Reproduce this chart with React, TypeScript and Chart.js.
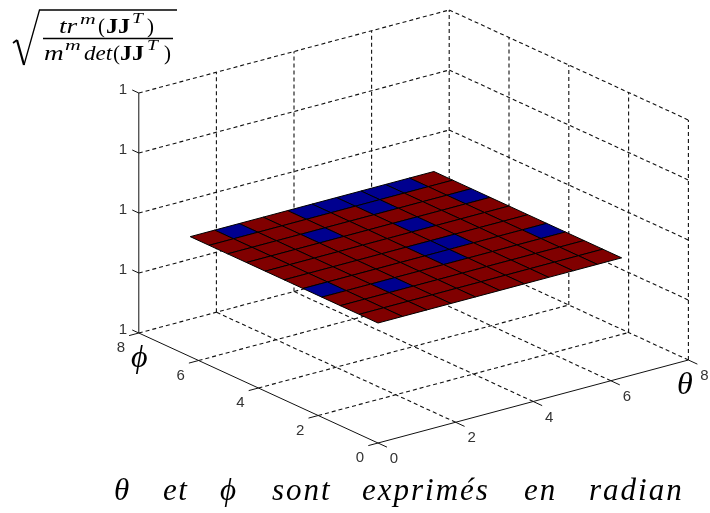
import React, { useEffect, useRef } from "react";
import { Chart, registerables } from "chart.js";

Chart.register(...registerables);

// ---- data ----
const thetaGrid = [0, 0.63, 1.26, 1.88, 2.51, 3.14, 3.77, 4.4, 5.03, 5.65, 6.28];
const phiGrid = [0, 0.63, 1.26, 1.88, 2.51, 3.14, 3.77, 4.4, 5.03, 5.65, 6.28];
const surfaceZ = 1;
// rows: phi index 0 -> 9, columns: theta index 0 -> 9; 1 = high (red), 0 = low (blue)
const cellRow0 = [1, 1, 1, 1, 1, 1, 1, 1, 1, 1];
const cellRow1 = [1, 1, 1, 1, 1, 1, 1, 1, 1, 1];
const cellRow2 = [1, 1, 0, 1, 1, 1, 1, 1, 1, 1];
const cellRow3 = [0, 1, 1, 1, 1, 0, 1, 1, 1, 0];
const cellRow4 = [1, 1, 1, 1, 1, 0, 0, 1, 1, 1];
const cellRow5 = [1, 1, 1, 1, 1, 1, 1, 1, 1, 1];
const cellRow6 = [1, 1, 1, 1, 1, 1, 0, 1, 1, 1];
const cellRow7 = [1, 1, 1, 0, 1, 1, 1, 1, 1, 0];
const cellRow8 = [1, 1, 1, 1, 1, 1, 0, 1, 1, 1];
const cellRow9 = [1, 0, 1, 1, 0, 0, 0, 0, 0, 1];
const cellRows = [cellRow0, cellRow1, cellRow2, cellRow3, cellRow4, cellRow5, cellRow6, cellRow7, cellRow8, cellRow9];

const thetaTicks = [0, 2, 4, 6, 8];
const phiTicks = [0, 2, 4, 6, 8];
const zTicks = [0.99, 0.995, 1, 1.005, 1.01];
const thetaTickLabels = ["0", "2", "4", "6", "8"];
const phiTickLabels = ["0", "2", "4", "6", "8"];
const zTickLabels = ["1", "1", "1", "1", "1"];

// ---- view (orthographic projection onto the flat chart scales) ----
const project = (t: number, p: number, z: number) => ({
  x: 378 + 38.8 * t - 29.9 * p,
  y: 443 - 10.375 * t - 13.75 * p - ((z - 0.99) / 0.02) * 240,
});

const RED = "#800000";
const BLUE = "#00008f";
const GRID = "#111";
const TICK_FONT = '15px "Liberation Sans", Arial, sans-serif';
const MATH = '"Liberation Serif", serif';

const line = (pts: { x: number; y: number }[], dashed: boolean) => ({
  data: pts,
  showLine: true,
  tension: 0,
  borderColor: GRID,
  borderWidth: dashed ? 1.1 : 1,
  borderDash: dashed ? [4, 3] : [],
  pointRadius: 0,
  cellFill: null as string | null,
});

function buildDatasets() {
  const zMin = zTicks[0];
  const zMax = zTicks[zTicks.length - 1];
  const tMax = thetaTicks[thetaTicks.length - 1];
  const pMax = phiTicks[phiTicks.length - 1];
  const out: any[] = [];

  // surface cells, on top
  cellRows.forEach((row, j) =>
    row.forEach((v, i) => {
      out.push({
        data: [
          project(thetaGrid[i], phiGrid[j], surfaceZ),
          project(thetaGrid[i + 1], phiGrid[j], surfaceZ),
          project(thetaGrid[i + 1], phiGrid[j + 1], surfaceZ),
          project(thetaGrid[i], phiGrid[j + 1], surfaceZ),
          project(thetaGrid[i], phiGrid[j], surfaceZ),
        ],
        showLine: true,
        tension: 0,
        borderColor: "#000",
        borderWidth: 1,
        pointRadius: 0,
        cellFill: v ? RED : BLUE,
      });
    }),
  );

  // solid axes and tick marks
  out.push(line([project(0, 0, zMin), project(tMax, 0, zMin)], false));
  out.push(line([project(0, 0, zMin), project(0, pMax, zMin)], false));
  out.push(line([project(0, pMax, zMin), project(0, pMax, zMax)], false));
  thetaTicks.forEach((t) => out.push(line([project(t, 0, zMin), project(t, -0.3, zMin)], false)));
  phiTicks.forEach((p) => out.push(line([project(0, p, zMin), project(-0.25, p, zMin)], false)));
  zTicks.forEach((z) => out.push(line([project(0, pMax, z), project(0, pMax + 0.22, z)], false)));

  // dashed floor grid
  thetaTicks.slice(1).forEach((t) => out.push(line([project(t, 0, zMin), project(t, pMax, zMin)], true)));
  phiTicks.slice(1).forEach((p) => out.push(line([project(0, p, zMin), project(tMax, p, zMin)], true)));
  // dashed back walls
  thetaTicks.slice(1).forEach((t) => out.push(line([project(t, pMax, zMin), project(t, pMax, zMax)], true)));
  phiTicks.slice(0, -1).forEach((p) => out.push(line([project(tMax, p, zMin), project(tMax, p, zMax)], true)));
  zTicks.slice(1).forEach((z) => {
    out.push(line([project(0, pMax, z), project(tMax, pMax, z)], true));
    out.push(line([project(tMax, pMax, z), project(tMax, 0, z)], true));
  });
  return out;
}

const cellFillPlugin = {
  id: "cellFill",
  beforeDatasetDraw(chart: any, args: any) {
    const ds = chart.data.datasets[args.index];
    if (!ds.cellFill) return;
    const pts = args.meta.data;
    const c = chart.ctx;
    c.save();
    c.beginPath();
    pts.forEach((p: any, i: number) => (i ? c.lineTo(p.x, p.y) : c.moveTo(p.x, p.y)));
    c.closePath();
    c.fillStyle = ds.cellFill;
    c.fill();
    c.restore();
  },
};

const textPlugin = {
  id: "sceneText",
  afterDraw(chart: any) {
    const c = chart.ctx;
    const sx = chart.scales.x;
    const sy = chart.scales.y;
    const zMin = zTicks[0];
    const pMax = phiTicks[phiTicks.length - 1];
    const put = (s: string, x: number, y: number, font: string, align: CanvasTextAlign = "left", base: CanvasTextBaseline = "alphabetic", spacing = "0px") => {
      c.font = font;
      c.textAlign = align;
      c.textBaseline = base;
      (c as any).letterSpacing = spacing;
      c.fillText(s, x, y);
    };
    const wide = (s: string, x: number, y: number, font: string, k: number) => {
      c.save();
      c.translate(x, y);
      c.scale(k, 1);
      put(s, 0, 0, font);
      c.restore();
    };
    c.save();
    c.fillStyle = "#333";
    thetaTicks.forEach((t, i) => {
      const a = project(t, 0, zMin);
      put(thetaTickLabels[i], sx.getPixelForValue(a.x) + 16, sy.getPixelForValue(a.y) + 16, TICK_FONT, "center", "middle");
    });
    phiTicks.forEach((p, i) => {
      const a = project(0, p, zMin);
      put(phiTickLabels[i], sx.getPixelForValue(a.x) - 18, sy.getPixelForValue(a.y) + 15, TICK_FONT, "center", "middle");
    });
    zTicks.forEach((z, i) => {
      const a = project(0, pMax, z);
      put(zTickLabels[i], sx.getPixelForValue(a.x) - 16, sy.getPixelForValue(a.y) - 3, TICK_FONT, "center", "middle");
    });

    c.fillStyle = "#000";
    const it = (n: number) => `italic ${n}px ${MATH}`;
    const bd = (n: number) => `bold ${n}px ${MATH}`;
    const rm = (n: number) => `${n}px ${MATH}`;

    // axis letters
    put("\u03D5", 131, 367, it(32));
    put("θ", 677, 394, it(32));

    // caption
    put("θ", 114, 500, it(31));
    put("et", 163, 500, it(31), "left", "alphabetic", "1.5px");
    put("\u03D5", 220, 500, it(31));
    put("sont", 272, 500, it(31), "left", "alphabetic", "2px");
    put("exprimés", 362, 500, it(31), "left", "alphabetic", "2px");
    put("en", 524, 500, it(31), "left", "alphabetic", "2px");
    put("radian", 589, 500, it(31), "left", "alphabetic", "2px");

    // formula
    wide("tr", 59, 33, it(21), 1.3);
    wide("m", 80, 24, it(15), 1.45);
    put("(", 98, 33, rm(21));
    wide("JJ", 106, 33, bd(21), 1.15);
    wide("T", 132, 23, it(15), 1.3);
    put(")", 147, 33, rm(21));
    wide("m", 44, 60, it(21), 1.3);
    wide("m", 65, 50, it(15), 1.45);
    wide("det", 84, 60, it(21), 1.1);
    put("(", 113, 60, rm(21));
    wide("JJ", 120, 60, bd(21), 1.15);
    wide("T", 147, 50, it(15), 1.3);
    put(")", 164, 60, rm(21));

    c.strokeStyle = "#000";
    c.lineWidth = 1.6;
    c.beginPath();
    c.moveTo(13, 43);
    c.lineTo(17, 40);
    c.stroke();
    c.lineWidth = 2.2;
    c.beginPath();
    c.moveTo(17, 40);
    c.lineTo(24, 65);
    c.stroke();
    c.lineWidth = 1.3;
    c.beginPath();
    c.moveTo(24, 65);
    c.lineTo(39.5, 10);
    c.lineTo(177, 10);
    c.stroke();
    c.lineWidth = 1.5;
    c.beginPath();
    c.moveTo(43, 38.5);
    c.lineTo(173, 38.5);
    c.stroke();
    c.restore();
  },
};

export default function App() {
  const ref = useRef<HTMLCanvasElement | null>(null);
  useEffect(() => {
    document.body.style.margin = "0";
    document.body.style.background = "#fff";
    const chart = new Chart(ref.current as HTMLCanvasElement, {
      type: "scatter",
      data: { datasets: buildDatasets() },
      options: {
        animation: false,
        responsive: false,
        layout: { padding: 0 },
        plugins: { legend: { display: false }, tooltip: { enabled: false } },
        scales: {
          x: { type: "linear", min: 0, max: 710, display: false },
          y: { type: "linear", min: 0, max: 513, reverse: true, display: false },
        },
      },
      plugins: [cellFillPlugin, textPlugin],
    } as any);
    return () => chart.destroy();
  }, []);
  return <canvas ref={ref} width={710} height={513} style={{ display: "block" }} />;
}
